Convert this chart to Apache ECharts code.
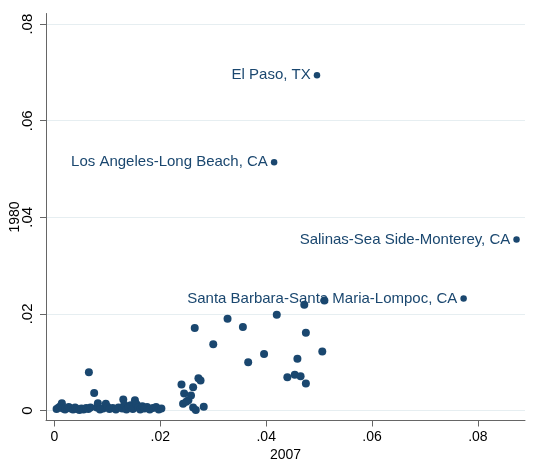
<!DOCTYPE html>
<html>
<head>
<meta charset="utf-8">
<script src="https://cdn.jsdelivr.net/npm/echarts@6/dist/echarts.min.js"></script>
<style>
html, body { margin: 0; padding: 0; background: #ffffff; }
#chart { width: 539px; height: 476px; }
</style>
</head>
<body>
<div id="chart"></div>
<script>
// Unlabeled metro areas: share in 2007 (x) vs share in 1980 (y)
const metroX = [
  0.0004, 0.0008, 0.0012, 0.0014, 0.0016, 0.0020, 0.0024, 0.0027, 0.0031, 0.0035,
  0.0039, 0.0043, 0.0047, 0.0051, 0.0055, 0.0060, 0.0064, 0.0068,
  0.0065, 0.0075,
  0.0080, 0.0082, 0.0086, 0.0092, 0.0097, 0.0100, 0.0104, 0.0110, 0.0116, 0.0121,
  0.0128, 0.0130, 0.0132, 0.0136, 0.0140, 0.0144, 0.0148, 0.0152, 0.0155, 0.0158,
  0.0162, 0.0166, 0.0170, 0.0175, 0.0180, 0.0186, 0.0192, 0.0197, 0.0202,
  0.0240, 0.0272, 0.0276, 0.0262, 0.0245, 0.0258, 0.0253, 0.0243, 0.0249, 0.0262, 0.0267, 0.0282,
  0.0265, 0.0300, 0.0327, 0.0356, 0.0366, 0.0396, 0.0420, 0.0440, 0.0454, 0.0465,
  0.0459, 0.0472, 0.0475, 0.0475, 0.0506, 0.0510
];
const metroY = [
  0.0003, 0.0006, 0.0010, 0.0015, 0.0004, 0.0002, 0.0005, 0.0007, 0.0004, 0.0002,
  0.0006, 0.0003, 0.0001, 0.0004, 0.0002, 0.0005, 0.0003, 0.0006,
  0.0079, 0.0036,
  0.0006, 0.0015, 0.0002, 0.0004, 0.0014, 0.0008, 0.0003, 0.0005, 0.0002, 0.0006,
  0.0004, 0.0023, 0.0012, 0.0002, 0.0007, 0.0011, 0.0003, 0.0021, 0.0013, 0.0006,
  0.0002, 0.0009, 0.0004, 0.0007, 0.0002, 0.0005, 0.0007, 0.0002, 0.0004,
  0.0054, 0.0067, 0.0062, 0.0048, 0.0035, 0.0031, 0.0021, 0.0014, 0.0018, 0.0006, 0.0001, 0.0008,
  0.0171, 0.0137, 0.0190, 0.0173, 0.0100, 0.0117, 0.0198, 0.0069, 0.0074, 0.0071,
  0.0107, 0.0219, 0.0161, 0.0056, 0.0122, 0.0228
];

// Labeled metro areas
const labeledNames = [
  'El Paso, TX',
  'Los Angeles-Long Beach, CA',
  'Salinas-Sea Side-Monterey, CA',
  'Santa Barbara-Santa Maria-Lompoc, CA'
];
const labeledX = [0.0496, 0.0415, 0.0873, 0.0773];
const labeledY = [0.0694, 0.0514, 0.0354, 0.0232];

// Axis ticks
const xTicks = [0, 0.02, 0.04, 0.06, 0.08];
const yTicks = [0, 0.02, 0.04, 0.06, 0.08];
const xTitle = '2007';
const yTitle = '1980';

const fmt = v => {
  if (Math.abs(v) < 1e-12) return '0';
  return (Math.round(v * 100) / 100).toFixed(2).replace(/^0\./, '.');
};

const navy = '#1a476f';
const font = '"Liberation Sans", Arial, Helvetica, sans-serif';

const metroData = metroX.map((x, i) => [x, metroY[i]]);
const labeledData = labeledNames.map((n, i) => ({ name: n, value: [labeledX[i], labeledY[i]] }));

const chart = echarts.init(document.getElementById('chart'), null, { renderer: 'canvas' });
chart.setOption({
  animation: false,
  backgroundColor: '#ffffff',
  grid: { left: 46, right: 14, top: 13.5, bottom: 55.5, containLabel: false, outerBoundsMode: 'none' },
  xAxis: {
    type: 'value',
    min: -0.0016,
    max: 0.0889,
    name: xTitle,
    nameLocation: 'middle',
    nameGap: 28,
    nameMoveOverlap: false,
    nameTextStyle: { color: '#000', fontSize: 14, fontFamily: font },
    axisLine: { show: true, onZero: false, lineStyle: { color: '#666', width: 1 } },
    axisTick: { show: true, length: 6, lineStyle: { color: '#666' }, customValues: xTicks },
    axisLabel: { show: true, margin: 10, color: '#000', fontSize: 14, fontFamily: font, formatter: fmt, customValues: xTicks, hideOverlap: false, showMinLabel: true, showMaxLabel: true },
    splitLine: { show: false }
  },
  yAxis: {
    type: 'value',
    min: -0.00207,
    max: 0.0822,
    name: yTitle,
    nameLocation: 'middle',
    nameGap: 24,
    nameRotate: 90,
    nameMoveOverlap: false,
    nameTextStyle: { color: '#000', fontSize: 14, fontFamily: font },
    axisLine: { show: true, onZero: false, lineStyle: { color: '#666', width: 1 } },
    axisTick: { show: true, length: 6, lineStyle: { color: '#666' }, customValues: yTicks },
    axisLabel: { show: true, rotate: 90, margin: 11, color: '#000', fontSize: 15, fontFamily: font, formatter: fmt, customValues: yTicks, hideOverlap: false, showMinLabel: true, showMaxLabel: true },
    splitLine: { show: true, lineStyle: { color: '#e6eef1', width: 1.2 } }
  },
  series: [
    {
      type: 'scatter',
      data: metroData,
      symbol: 'circle',
      symbolSize: 8,
      itemStyle: { color: navy, opacity: 1 },
      silent: true
    },
    {
      type: 'scatter',
      data: labeledData,
      symbol: 'circle',
      symbolSize: 6.5,
      itemStyle: { color: navy, opacity: 1 },
      label: {
        show: true,
        position: 'left',
        distance: 3,
        formatter: '{b}',
        color: navy,
        fontSize: 15,
        fontFamily: font
      },
      labelLayout: { hideOverlap: false },
      silent: true
    }
  ]
});
</script>
</body>
</html>
